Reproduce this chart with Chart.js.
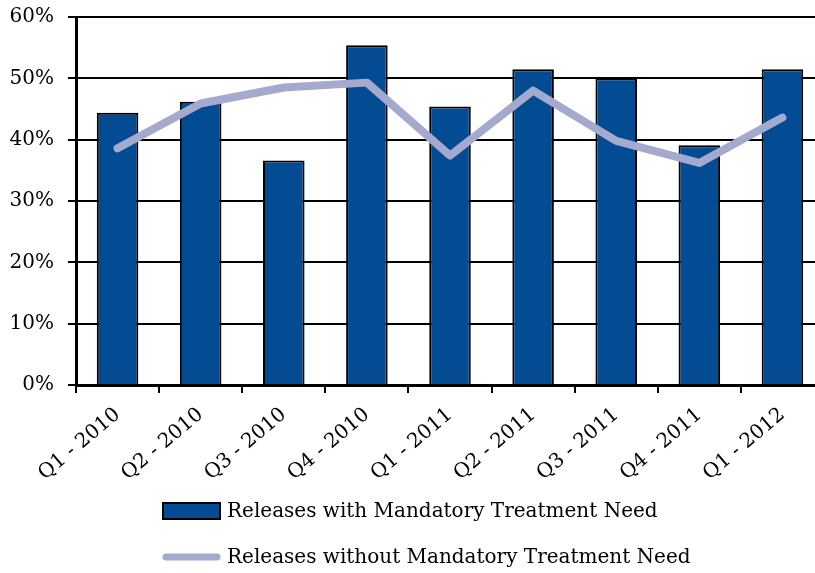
<!DOCTYPE html>
<html>
<head>
<meta charset="utf-8">
<script src="https://cdn.jsdelivr.net/npm/chart.js@4/dist/chart.umd.min.js"></script>
<style>
  html, body { margin: 0; padding: 0; background: #fff; overflow: hidden; }
  #wrap { width: 825px; height: 573px; }
</style>
</head>
<body>
<div id="wrap"><canvas id="releaseChart"></canvas></div>
<script>
const quarters = ['Q1 - 2010', 'Q2 - 2010', 'Q3 - 2010', 'Q4 - 2010', 'Q1 - 2011', 'Q2 - 2011', 'Q3 - 2011', 'Q4 - 2011', 'Q1 - 2012'];
const withMandatory = [44.4, 46.2, 36.6, 55.4, 45.4, 51.5, 50.0, 39.1, 51.5];
const withoutMandatory = [38.6, 45.9, 48.5, 49.3, 37.4, 48.0, 39.8, 36.2, 43.6];
const yTicks = [0, 10, 20, 30, 40, 50, 60];

const fontFamily = "'DejaVu Serif', serif";

// legend stacked in two rows under the axis labels
const stackedLegend = {
  id: 'stackedLegend',
  afterDraw(chart) {
    const ctx = chart.ctx;
    const rows = [chart.data.datasets[1], chart.data.datasets[0]];
    const x0 = 163, boxW = 57;
    const ys = [511, 557];
    ctx.save();
    ctx.font = '20px ' + fontFamily;
    ctx.textBaseline = 'middle';
    rows.forEach((ds, i) => {
      const y = ys[i];
      if (ds.type === 'line') {
        ctx.strokeStyle = ds.borderColor;
        ctx.lineWidth = 7;
        ctx.lineCap = 'round';
        ctx.beginPath();
        ctx.moveTo(x0 + 3, y);
        ctx.lineTo(x0 + boxW - 3, y);
        ctx.stroke();
      } else {
        ctx.fillStyle = ds.backgroundColor;
        ctx.fillRect(x0, y - 8, boxW, 16);
        ctx.strokeStyle = '#000';
        ctx.lineWidth = 2;
        ctx.strokeRect(x0, y - 8, boxW, 16);
      }
      ctx.fillStyle = '#000';
      ctx.fillText(ds.label, x0 + boxW + 7, y + 1);
    });
    ctx.restore();
  }
};

const ctx = document.getElementById('releaseChart').getContext('2d');
const releaseChart = new Chart(ctx, {
  data: {
    labels: quarters,
    datasets: [
      {
        type: 'line',
        label: 'Releases without Mandatory Treatment Need',
        data: withoutMandatory,
        borderColor: '#a4a9ce',
        borderWidth: 8,
        borderCapStyle: 'round',
        borderJoinStyle: 'round',
        pointRadius: 0,
        tension: 0,
        order: 0
      },
      {
        type: 'bar',
        label: 'Releases with Mandatory Treatment Need',
        data: withMandatory,
        backgroundColor: '#034b93',
        borderColor: '#000',
        borderWidth: 2,
        barPercentage: 0.5,
        categoryPercentage: 1,
        order: 1
      }
    ]
  },
  options: {
    responsive: true,
    maintainAspectRatio: false,
    animation: false,
    layout: { padding: { top: 17, right: 1, left: 0, bottom: 0 } },
    plugins: {
      legend: { display: false },
      tooltip: { enabled: false }
    },
    scales: {
      x: {
        grid: {
          display: true,
          drawOnChartArea: false,
          drawTicks: true,
          tickLength: 8,
          color: '#000',
          lineWidth: 2
        },
        border: { display: true, color: '#000', width: 3 },
        ticks: {
          color: '#000',
          font: { family: fontFamily, size: 20 },
          minRotation: 40,
          maxRotation: 40,
          padding: 10
        },
        afterFit(scale) { scale.height = 188; }
      },
      y: {
        min: 0,
        max: 60,
        afterBuildTicks(scale) { scale.ticks = yTicks.map(v => ({ value: v })); },
        grid: {
          color: '#000',
          lineWidth: 2,
          tickLength: 8
        },
        border: { display: true, color: '#000', width: 3 },
        ticks: {
          color: '#000',
          font: { family: fontFamily, size: 20 },
          padding: 14,
          callback: v => v + '%'
        },
        afterFit(scale) {
          scale.width = 76;
          scale.paddingTop = 10;
          scale.paddingBottom = 10;
        }
      }
    }
  },
  plugins: [stackedLegend]
});
</script>
</body>
</html>
